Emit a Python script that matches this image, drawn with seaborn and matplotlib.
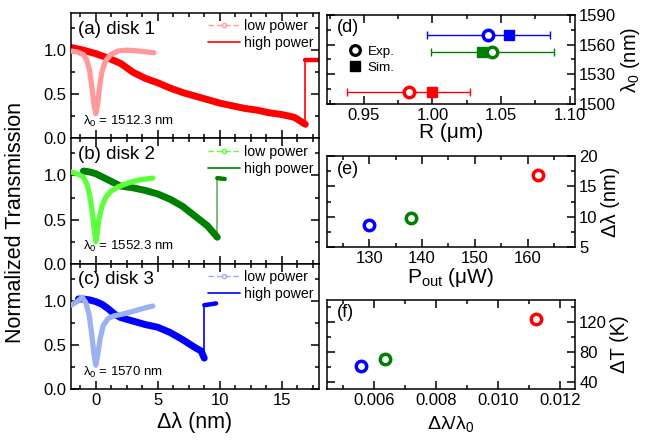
import numpy as np
import seaborn as sns
import matplotlib.pyplot as plt
from matplotlib.lines import Line2D
from matplotlib.ticker import MultipleLocator, FormatStrFormatter

# ---- transmission traces ----
lp1_x = [-2, -1.5, -1, -0.7, -0.5, -0.3, -0.15, 0, 0.15, 0.3, 0.5, 0.8, 1.2, 1.8, 2.5, 3.5, 4.7]
lp1_y = [0.99, 0.98, 0.95, 0.88, 0.77, 0.57, 0.38, 0.28, 0.38, 0.58, 0.76, 0.88, 0.95, 0.99, 1.0, 0.99, 0.97]
hp1_x = [-2, -1, 0, 1, 2, 3, 4, 5, 6, 7, 8, 9, 10, 11, 12, 13, 14, 15, 16, 16.9]
hp1_y = [1.03, 1.0, 0.96, 0.91, 0.85, 0.75, 0.68, 0.63, 0.57, 0.52, 0.48, 0.44, 0.40, 0.37, 0.34, 0.32, 0.29, 0.27, 0.24, 0.16]
hp1_plat_x = [16.9, 18.2]
hp1_plat_y = [0.885, 0.885]

lp2_x = [-2, -1.5, -1, -0.7, -0.45, -0.25, -0.1, 0, 0.1, 0.25, 0.5, 0.8, 1.2, 1.8, 2.5, 3.5, 4.6]
lp2_y = [1.04, 1.02, 0.98, 0.9, 0.75, 0.55, 0.35, 0.25, 0.33, 0.5, 0.65, 0.75, 0.82, 0.87, 0.91, 0.95, 0.97]
hp2_x = [-1, -0.5, 0, 1, 2, 3, 4, 5, 6, 7, 8, 9, 9.8]
hp2_y = [1.05, 1.04, 1.02, 0.95, 0.88, 0.86, 0.83, 0.79, 0.73, 0.65, 0.54, 0.43, 0.30]
hp2_plat_x = [9.8, 10.4]
hp2_plat_y = [0.97, 0.96]

lp3_x = [-2, -1.5, -1.1, -0.8, -0.55, -0.35, -0.15, 0, 0.15, 0.35, 0.6, 1.0, 1.5, 2.2, 3, 4, 4.6]
lp3_y = [0.95, 0.99, 1.04, 0.98, 0.85, 0.65, 0.4, 0.27, 0.38, 0.57, 0.72, 0.8, 0.83, 0.85, 0.88, 0.92, 0.94]
hp3_x = [-1.4, -1, -0.5, 0, 0.5, 1, 1.5, 2, 3, 4, 5, 6, 7, 8, 8.5, 8.75]
hp3_y = [1.02, 1.02, 1.01, 0.99, 0.96, 0.91, 0.85, 0.81, 0.77, 0.73, 0.7, 0.64, 0.56, 0.47, 0.43, 0.35]
hp3_plat_x = [8.75, 9.7]
hp3_plat_y = [0.95, 0.97]

disk_names = ["disk 1", "disk 2", "disk 3"]
lambda0 = ["1512.3", "1552.3", "1570"]
dark_colors = ["#ff0000", "#008000", "#0000ff"]
light_colors = ["#ff9a9a", "#5cff3c", "#9ab2f0"]

# ---- right panels ----
R_exp = [0.9827, 1.0437, 1.0408]
R_sim = [0.9998, 1.0363, 1.0557]
R_err = [0.045, 0.045, 0.045]
lam0_nm = [1512.3, 1552.3, 1570.0]
P_out = [162, 138, 130]
dlam = [16.9, 9.8, 8.7]
dlam_rel = [0.01122, 0.00635, 0.00559]
dT = [124, 70, 61]
pt_colors = ["#ff0000", "#008000", "#0000ff"]

sns.set_style("ticks")
plt.rcParams['font.family'] = ['Liberation Sans', 'DejaVu Sans']
plt.rcParams['mathtext.fontset'] = 'custom'
plt.rcParams['mathtext.rm'] = 'Liberation Sans'
plt.rcParams['mathtext.it'] = 'Liberation Sans:italic'
plt.rcParams['axes.linewidth'] = 1.1
plt.rcParams['axes.edgecolor'] = 'black'
plt.rcParams['xtick.color'] = 'black'
plt.rcParams['ytick.color'] = 'black'
plt.rcParams['text.color'] = 'black'
plt.rcParams['axes.labelcolor'] = 'black'

TICK_FS = 12

fig = plt.figure(figsize=(6.47, 4.45), dpi=100)


def style_ticks(ax):
    ax.tick_params(which='both', direction='in', top=True, right=True, left=True,
                   bottom=True, labelsize=TICK_FS, width=1.1, pad=3)
    ax.tick_params(which='major', length=5.5)
    ax.tick_params(which='minor', length=3)


lx0, lw_ = 0.1097, 0.3833
lh = 0.2816
left_axes = [fig.add_axes([lx0, 0.1258 + lh * (2 - i), lw_, lh]) for i in range(3)]

traces = [
    (lp1_x, lp1_y, hp1_x, hp1_y, hp1_plat_x, hp1_plat_y),
    (lp2_x, lp2_y, hp2_x, hp2_y, hp2_plat_x, hp2_plat_y),
    (lp3_x, lp3_y, hp3_x, hp3_y, hp3_plat_x, hp3_plat_y),
]
letters = ["a", "b", "c"]

for i, ax in enumerate(left_axes):
    lx, ly, hx, hy, px, py = traces[i]
    dc, lc = dark_colors[i], light_colors[i]
    # high power: noisy band drawn as thick line, jump thin
    sns.lineplot(x=hx, y=hy, ax=ax, color=dc, linewidth=5, zorder=2)
    ax.plot([hx[-1], px[0]], [hy[-1], py[0]], color=dc, lw=1.2, alpha=0.6 if i == 1 else 1, zorder=2)
    sns.lineplot(x=px, y=py, ax=ax, color=dc, linewidth=3.2, zorder=2)
    # low power on top
    sns.lineplot(x=lx, y=ly, ax=ax, color=lc, linewidth=3.8, zorder=3)

    ax.set_xlim(-2, 18)
    ax.set_ylim(0, 1.42)
    ax.xaxis.set_major_locator(MultipleLocator(5))
    ax.xaxis.set_minor_locator(MultipleLocator(1.25))
    ax.yaxis.set_major_locator(MultipleLocator(0.5))
    ax.yaxis.set_minor_locator(MultipleLocator(0.25))
    ax.yaxis.set_major_formatter(FormatStrFormatter('%.1f'))
    style_ticks(ax)
    ax.set_xlabel("")
    ax.set_ylabel("")
    if i < 2:
        ax.tick_params(labelbottom=False)

    ax.text(0.03, 0.94, f"({letters[i]}) {disk_names[i]}", transform=ax.transAxes,
            fontsize=13.5, va='top', ha='left')
    ax.text(-1.05, 0.19, f"λ$_0$ = {lambda0[i]} nm", fontsize=9.5, va='center', ha='left')

    handles = [
        Line2D([], [], color=lc, ls=(0, (4, 2)), lw=1, marker='o', ms=3, mfc='none', mec=lc),
        Line2D([], [], color=dc, ls='-', lw=1.2),
    ]
    ax.legend(handles, ["low power", "high power"], loc='upper right', frameon=False,
              fontsize=10.2, handlelength=2.3, handletextpad=0.3, labelspacing=0.2,
              borderaxespad=0.05, bbox_to_anchor=(1.005, 1.0))

left_axes[2].set_xlabel("Δλ (nm)", fontsize=15.5, labelpad=3)
fig.text(0.024, 0.5, "Normalized Transmission", rotation=90, fontsize=15.5,
         va='center', ha='center')

# ---- right column ----
rx0, rw = 0.5054, 0.3833
ax_d = fig.add_axes([rx0, 0.7663, rw, 0.2])
ax_e = fig.add_axes([rx0, 0.4449, rw, 0.2045])
ax_f = fig.add_axes([rx0, 0.1258, rw, 0.2])

for k in range(3):
    ax_d.errorbar(R_exp[k], lam0_nm[k], xerr=R_err[k], fmt='none', ecolor=pt_colors[k],
                  elinewidth=1, capsize=3, capthick=1, zorder=1)
    ax_d.plot(R_sim[k], lam0_nm[k], marker='s', ms=7, color=pt_colors[k], ls='none', zorder=2)
    ax_d.plot(R_exp[k], lam0_nm[k], marker='o', ms=7.5, mfc='white', mec=pt_colors[k],
              mew=2.5, ls='none', zorder=3)
    ax_e.plot(P_out[k], dlam[k], marker='o', ms=7.5, mfc='white', mec=pt_colors[k],
              mew=2.5, ls='none')
    ax_f.plot(dlam_rel[k], dT[k], marker='o', ms=7.5, mfc='white', mec=pt_colors[k],
              mew=2.5, ls='none')

ax_d.set_xlim(0.923, 1.104)
ax_d.set_ylim(1500, 1590)
ax_d.xaxis.set_major_locator(MultipleLocator(0.05))
ax_d.xaxis.set_minor_locator(MultipleLocator(0.025))
ax_d.yaxis.set_major_locator(MultipleLocator(30))
ax_d.yaxis.set_minor_locator(MultipleLocator(15))
ax_d.xaxis.set_major_formatter(FormatStrFormatter('%.2f'))
ax_d.set_xlabel("R (μm)", fontsize=15, labelpad=0)
ax_d.set_ylabel("λ$_0$ (nm)", fontsize=14.5, labelpad=2)
ax_d.text(0.04, 0.95, "(d)", transform=ax_d.transAxes, fontsize=13, va='top')
h_d = [Line2D([], [], marker='o', ms=7, mfc='white', mec='black', mew=2.3, ls='none'),
       Line2D([], [], marker='s', ms=6.5, color='black', ls='none')]
ax_d.legend(h_d, ["Exp.", "Sim."], loc='upper left', bbox_to_anchor=(0.06, 0.72),
            frameon=False, fontsize=9.7, handletextpad=0.3, labelspacing=0.25,
            borderaxespad=0, handlelength=1.2)

ax_e.set_xlim(122, 169)
ax_e.set_ylim(5, 20)
ax_e.xaxis.set_major_locator(MultipleLocator(10))
ax_e.xaxis.set_minor_locator(MultipleLocator(5))
ax_e.yaxis.set_major_locator(MultipleLocator(5))
ax_e.yaxis.set_minor_locator(MultipleLocator(2.5))
ax_e.set_xlabel("P$_{\\rm out}$ (μW)", fontsize=15, labelpad=0)
ax_e.set_ylabel("Δλ (nm)", fontsize=14.5, labelpad=2)
ax_e.text(0.04, 0.95, "(e)", transform=ax_e.transAxes, fontsize=13, va='top')

ax_f.set_xlim(0.0045, 0.01247)
ax_f.set_ylim(30, 149)
ax_f.xaxis.set_major_locator(MultipleLocator(0.002))
ax_f.xaxis.set_minor_locator(MultipleLocator(0.001))
ax_f.yaxis.set_major_locator(MultipleLocator(40))
ax_f.yaxis.set_minor_locator(MultipleLocator(20))
ax_f.xaxis.set_major_formatter(FormatStrFormatter('%.3f'))
ax_f.set_xlabel("Δλ/λ$_0$", fontsize=14, labelpad=4)
ax_f.set_ylabel("ΔT (K)", fontsize=14.5, labelpad=2)
ax_f.text(0.04, 0.95, "(f)", transform=ax_f.transAxes, fontsize=13, va='top')

for ax in (ax_d, ax_e, ax_f):
    ax.yaxis.tick_right()
    ax.yaxis.set_label_position('right')
    style_ticks(ax)
    ax.tick_params(labelleft=False, labelright=True)

fig.savefig("out.png", dpi=100)
